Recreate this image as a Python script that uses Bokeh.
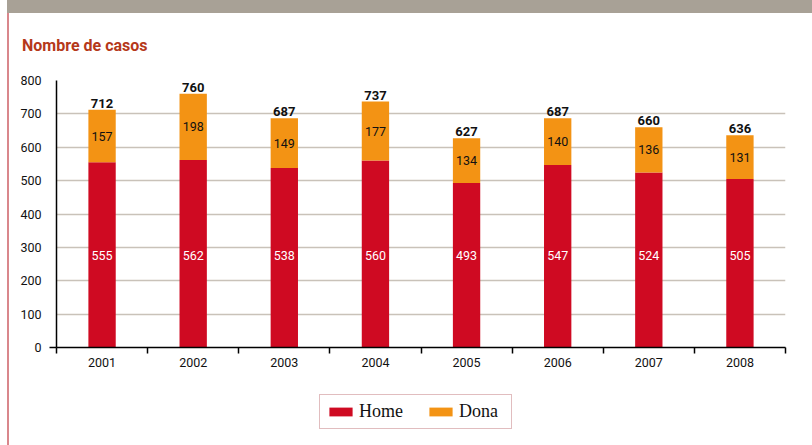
from bokeh.plotting import figure
from bokeh.models import (ColumnDataSource, FixedTicker, Legend, LegendItem,
                          Div, Range1d)
from bokeh.layouts import column, row
from bokeh.embed import file_html
from bokeh.resources import INLINE
from bokeh.core.properties import value

# ---- data ----
years = ["2001", "2002", "2003", "2004", "2005", "2006", "2007", "2008"]
home = [555, 562, 538, 560, 493, 547, 524, 505]
dona = [157, 198, 149, 177, 134, 140, 136, 131]
totals = [712, 760, 687, 737, 627, 687, 660, 636]
y_ticks = [0, 100, 200, 300, 400, 500, 600, 700, 800]
series_names = ["Home", "Dona"]
title_text = "Nombre de casos"

RED = "#cf0a22"
ORANGE = "#f39314"
FONT = "Roboto"
HOME_LABEL_LEVEL = 275  # the reference prints all "Home" values on one common line

n = len(years)
xs = [i + 0.5 for i in range(n)]
src = ColumnDataSource(dict(
    x=xs, home=home, dona=dona, total=totals,
    home_lab=[HOME_LABEL_LEVEL] * n,
    dona_mid=[h + d / 2 for h, d in zip(home, dona)],
    home_txt=[str(v) for v in home],
    dona_txt=[str(v) for v in dona],
    total_txt=[str(v) for v in totals],
))

# ---- main chart ----
p = figure(width=803, height=313, x_range=Range1d(0, n), y_range=Range1d(0, y_ticks[-1]),
           output_backend="svg", toolbar_location=None,
           min_border_left=47, min_border_right=27, min_border_top=13, min_border_bottom=33,
           outline_line_color=None, background_fill_color="white", border_fill_color="white")

rs = p.vbar_stack(["home", "dona"], x="x", width=0.3, color=[RED, ORANGE],
                  line_color=None, source=src)

p.text(x="x", y="home_lab", text="home_txt", source=src, text_color="white",
       text_align="center", text_baseline="middle", text_font=value(FONT),
       text_font_size="12.5px")
p.text(x="x", y="dona_mid", text="dona_txt", source=src, text_color="#111111",
       text_align="center", text_baseline="middle", text_font=value(FONT),
       text_font_size="12.5px")
p.text(x="x", y="total", text="total_txt", source=src, text_color="#111111",
       text_align="center", text_baseline="bottom", y_offset=-2, text_font=value(FONT),
       text_font_size="13px", text_font_style="bold")

p.xaxis.ticker = FixedTicker(ticks=xs, minor_ticks=list(range(n + 1)))
p.xaxis.major_label_overrides = {x: y for x, y in zip(xs, years)}
p.xaxis.major_tick_out = 0
p.xaxis.major_tick_in = 0
p.xaxis.minor_tick_out = 6
p.xaxis.minor_tick_in = 0
p.xaxis.minor_tick_line_color = "black"
p.xaxis.minor_tick_line_width = 1.5
p.xaxis.major_label_standoff = 4

p.yaxis.ticker = FixedTicker(ticks=y_ticks, minor_ticks=[y_ticks[0]])
p.yaxis.major_tick_out = 0
p.yaxis.major_tick_in = 0
p.yaxis.minor_tick_out = 7
p.yaxis.minor_tick_in = 0
p.yaxis.minor_tick_line_color = "black"
p.yaxis.minor_tick_line_width = 1.5
p.yaxis.major_label_standoff = 8

for ax in (p.xaxis, p.yaxis):
    ax.axis_line_color = "black"
    ax.axis_line_width = 1.5
    ax.major_label_text_font = FONT
    ax.major_label_text_font_size = "12.5px"
    ax.major_label_text_color = "#111111"

p.xgrid.visible = False
p.ygrid.ticker = FixedTicker(ticks=y_ticks)
p.ygrid.grid_line_color = "#c9c2b9"
p.ygrid.grid_line_width = 1.5

# ---- legend strip (own figure, same data source, hidden bars) ----
lg = figure(width=803, height=65, x_range=Range1d(0, n), y_range=Range1d(0, y_ticks[-1]),
            output_backend="svg", toolbar_location=None, x_axis_type=None, y_axis_type=None,
            min_border=0, outline_line_color=None, background_fill_color="white",
            border_fill_color="white")
lg.grid.visible = False
lrs = lg.vbar_stack(["home", "dona"], x="x", width=0.3, color=[RED, ORANGE],
                    line_color=None, source=src)
for r in lrs:
    r.visible = False

legend = Legend(items=[LegendItem(label=series_names[0], renderers=[lrs[0]]),
                       LegendItem(label=series_names[1], renderers=[lrs[1]])],
                location=(263, 16), orientation="horizontal",
                glyph_width=29, glyph_height=11, label_standoff=4, spacing=21,
                padding=6, margin=0, label_height=16, label_width=46,
                label_text_font="Liberation Serif", label_text_font_size="18px",
                label_text_color="#111111",
                border_line_color="#c47c80", border_line_width=1.5,
                background_fill_color="white", background_fill_alpha=1.0,
                inactive_fill_alpha=0.0)
lg.add_layout(legend)

# ---- page decorations ----
header = Div(text="", width=805, height=13, margin=0,
             styles={"background-color": "#a8a196"})
title = Div(text=('<div style="margin:23px 0 0 13px; font-family:Roboto; font-size:16px; '
                  'font-weight:bold; color:#b5381a; line-height:19px;">' + title_text + '</div>'),
            width=803, height=54, margin=0)
vline = Div(text="", width=2, height=432, margin=0,
            styles={"background": "#d9878c", "background-color": "#d9878c"})

layout = column(header,
                row(vline, column(title, p, lg, margin=0, spacing=0), margin=0, spacing=0),
                margin=(0, 0, 0, 7), spacing=0)

open("out.html", "w").write(file_html(layout, INLINE))
